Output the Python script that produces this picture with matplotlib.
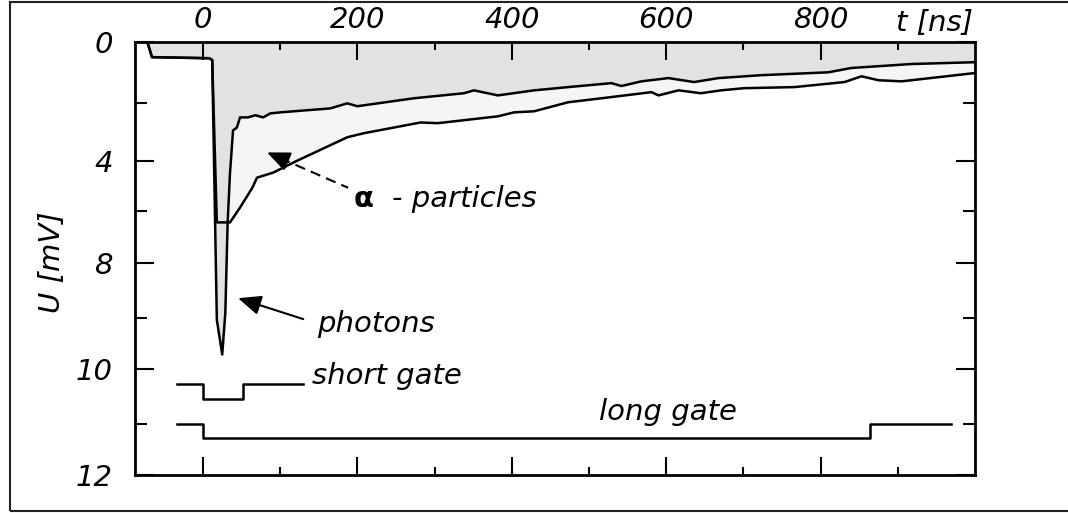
import numpy as np
import matplotlib
matplotlib.use("Agg")
from matplotlib import pyplot as plt
from matplotlib.patches import Rectangle

# time in ns, signal in axis units (0 at top, 12 at bottom, as drawn)
photon_t = [-72, -66, 8, 12, 18, 25, 29, 32, 35, 39, 44, 48, 58, 68, 78, 87, 100,
            165, 187, 200, 273, 338, 351, 382, 429, 473, 529, 542, 568, 603, 636,
            668, 723, 810, 840, 918, 1000]
photon_u = [0, 0.42, 0.45, 0.5, 7.7, 8.66, 7.5, 5.0, 3.65, 2.45, 2.37, 2.09, 2.09,
            2.03, 2.09, 1.98, 1.95, 1.84, 1.70, 1.78, 1.56, 1.42, 1.34, 1.48, 1.34,
            1.25, 1.14, 1.22, 1.09, 1.00, 1.11, 1.00, 0.92, 0.84, 0.72, 0.61, 0.56]

alpha_t = [-72, -66, 8, 12, 18, 35, 48, 64, 70, 91, 122, 187, 208, 282, 304, 382,
           403, 429, 473, 516, 581, 590, 616, 645, 671, 701, 766, 831, 853, 875,
           905, 1000]
alpha_u = [0, 0.42, 0.45, 0.5, 5.0, 5.0, 4.59, 4.04, 3.76, 3.62, 3.29, 2.64, 2.53,
           2.23, 2.25, 2.06, 1.95, 1.92, 1.67, 1.56, 1.39, 1.48, 1.34, 1.42, 1.34,
           1.28, 1.25, 1.11, 0.95, 1.06, 1.09, 0.86]

short_gate_t = [-34, 0, 0, 52, 52, 129]
short_gate_u = [9.47, 9.47, 9.88, 9.88, 9.47, 9.47]
long_gate_t = [-34, 0, 0, 864, 864, 969]
long_gate_u = [10.58, 10.58, 10.97, 10.97, 10.58, 10.58]

x_major = [0, 200, 400, 600, 800]
x_minor = [100, 300, 500, 700, 900]
y_major = [0, 3.29, 6.12, 9.05, 12]
y_major_labels = ['0', '4', '8', '10', '12']
y_minor = [1.70, 4.68, 7.65, 10.58]

plt.rcParams['font.family'] = ['DejaVu Sans']
plt.rcParams['font.style'] = 'italic'
FS = 21
LW = 1.8

fig = plt.figure(figsize=(10.68, 5.13), dpi=100)
ax = fig.add_axes([135 / 1068, 1 - 475 / 513, 840 / 1068, 433 / 513])

# shaded areas: light between the curves, grey above the photon curve
ax.fill(np.r_[photon_t, alpha_t[::-1]], np.r_[photon_u, alpha_u[::-1]],
        color='#f5f5f5', lw=0)
ax.fill_between(photon_t, 0, photon_u, color='#e2e2e2', lw=0)
ax.plot(photon_t, photon_u, color='k', lw=LW)
ax.plot(alpha_t, alpha_u, color='k', lw=LW)
ax.plot(short_gate_t, short_gate_u, color='k', lw=LW)
ax.plot(long_gate_t, long_gate_u, color='k', lw=LW)

ax.set_xlim(-88, 1000)
ax.set_ylim(12, 0)

ax.set_xticks(x_major)
ax.set_xticklabels([str(v) for v in x_major])
ax.set_xticks(x_minor, minor=True)
ax.set_yticks(y_major)
ax.set_yticklabels(y_major_labels)
ax.set_yticks(y_minor, minor=True)
ax.tick_params(axis='x', which='both', direction='in', top=True, bottom=True,
               labeltop=True, labelbottom=False, width=1.5)
ax.tick_params(axis='x', which='major', length=13, pad=6, labelsize=FS)
ax.tick_params(axis='x', which='minor', length=6)
ax.tick_params(axis='y', which='both', direction='in', left=True, right=True, width=1.5)
ax.tick_params(axis='y', which='major', length=14, pad=16, labelsize=FS)
ax.tick_params(axis='y', which='minor', length=8.5)
for s in ax.spines.values():
    s.set_linewidth(2)

head = dict(arrowstyle='-|>,head_length=0.7,head_width=0.3', color='k', lw=1.5,
            shrinkA=0, shrinkB=0, mutation_scale=20)

# photons arrow
ax.annotate('', xy=(45.5, 7.10), xytext=(130, 7.68), arrowprops=head)
ax.text(148, 7.82, 'photons', fontsize=FS, va='center', ha='left')

# alpha arrow: dashed shaft plus solid head
ax.plot([100, 188], [3.22, 4.04], color='k', lw=1.5, ls=(0, (5, 3)))
ax.annotate('', xy=(83, 3.06), xytext=(110, 3.31), arrowprops=head)
ax.text(195, 4.34, 'α', fontsize=FS, fontstyle='normal', fontweight='bold',
        va='center', ha='left')
ax.text(245, 4.34, '- particles', fontsize=FS, va='center', ha='left')

ax.text(141, 9.27, 'short gate', fontsize=FS, va='center', ha='left')
ax.text(513, 10.25, 'long gate', fontsize=FS, va='center', ha='left')

fig.text(52 / 1068, 1 - 262 / 513, 'U [mV]', rotation=90, ha='center',
         va='center', fontsize=FS)
fig.text(973 / 1068, 1 - 23 / 513, 't [ns]', ha='right', va='center', fontsize=FS)

# outer frame of the picture
fig.add_artist(Rectangle((10 / 1068, 2 / 513), 1.2, 509 / 513,
                         transform=fig.transFigure, fill=False, lw=1.5, ec='#222'))

fig.savefig('out.png', dpi=100)
